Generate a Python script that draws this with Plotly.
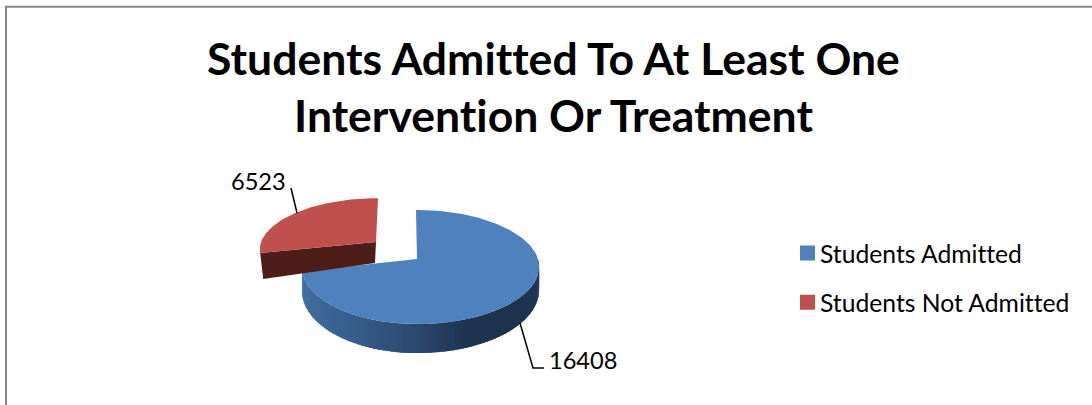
import numpy as np
import plotly.graph_objects as go

# ---- data ----
categories = ["Students Admitted", "Students Not Admitted"]
values = [16408, 6523]
value_labels = ["16408", "6523"]
title_text = "Students Admitted To At Least One<br>Intervention Or Treatment"

# ---- styling / projection of the tilted disc (pixels of the page) ----
W, H = 1092, 405
FONT = "Lato"
BLUE, RED, RED_DARK = "#4f81bd", "#c0504d", "#4d1d1a"
BLUE_APEX, BLUE_R, BLUE_K = (417, 259), 117.5, 56
RED_APEX, RED_R, RED_K = (376, 242), 115, 50
BLUE_SKEW, RED_SKEW = (3.5, -1), (0, 2)
PERSP = 0.14
GRAD_POS = [90, 130, 160, 180, 205, 235, 258]
GRAD_COL = [(31, 58, 92), (29, 50, 78), (31, 52, 80), (43, 73, 110), (54, 92, 136), (62, 106, 155), (68, 114, 164)]


def rim(apex, r, k, skew, deg):
    t = np.radians(deg)
    d = 1 + PERSP * np.cos(t)
    x = apex[0] + r * np.sin(t) / d + skew[0] * np.abs(np.sin(t)) + skew[1] * np.maximum(np.cos(t), 0)
    return x, apex[1] - k * np.cos(t) / d


def depth(deg, d0, d1):
    return d0 - d1 * np.cos(np.radians(deg))


def poly(xs, ys, color):
    return go.Scatter(x=list(xs), y=list(ys), mode="lines", fill="toself", fillcolor=color,
                      line=dict(color=color, width=0), hoverinfo="skip", showlegend=False)


split = 360 * values[0] / sum(values)
fig = go.Figure()

# blue slice: side strips with horizontal shading (each overlaps the next to hide seams)
edges = np.arange(90, split + 0.01, 2.0)
edges = np.append(edges, split) if edges[-1] < split else edges
for a, b in zip(edges[:-1], edges[1:]):
    m = (a + b) / 2
    b2 = min(b + 1.5, split)
    col = [np.interp(m, GRAD_POS, [c[i] for c in GRAD_COL]) for i in range(3)]
    color = "rgb(%d,%d,%d)" % tuple(col)
    xa, ya = rim(BLUE_APEX, BLUE_R, BLUE_K, BLUE_SKEW, a)
    xb, yb = rim(BLUE_APEX, BLUE_R, BLUE_K, BLUE_SKEW, b2)
    fig.add_trace(poly([xa, xb, xb, xa, xa],
                       [ya, yb, yb + depth(b2, 22, 7), ya + depth(a, 22, 7), ya], color))

# blue slice: top face
th = np.linspace(0, split, 200)
bx, by = rim(BLUE_APEX, BLUE_R, BLUE_K, BLUE_SKEW, th)
fig.add_trace(poly([BLUE_APEX[0], *bx, BLUE_APEX[0]], [BLUE_APEX[1], *by, BLUE_APEX[1]], BLUE))

# red slice: cut face, then top face
lx, ly = rim(RED_APEX, RED_R, RED_K, RED_SKEW, split)
fig.add_trace(poly([RED_APEX[0], lx, lx + 3, RED_APEX[0] - 1, RED_APEX[0]],
                   [RED_APEX[1], ly, ly + 26, RED_APEX[1] + 21, RED_APEX[1]], RED_DARK))
th = np.linspace(split, 360, 100)
rx, ry = rim(RED_APEX, RED_R, RED_K, RED_SKEW, th)
fig.add_trace(poly([RED_APEX[0], *rx, RED_APEX[0]], [RED_APEX[1], *ry, RED_APEX[1]], RED))

# leader lines
fig.add_trace(go.Scatter(x=[520, 533, 544], y=[323, 368, 368], mode="lines",
                         line=dict(color="#000000", width=1.5), hoverinfo="skip", showlegend=False))
fig.add_trace(go.Scatter(x=[291, 297], y=[188, 213], mode="lines",
                         line=dict(color="#000000", width=1.5), hoverinfo="skip", showlegend=False))

# legend entries
for name, color in zip(categories, [BLUE, RED]):
    fig.add_trace(go.Scatter(x=[None], y=[None], mode="markers", name=name, legendgroup=name,
                             marker=dict(symbol="square", size=15, color=color)))

fig.add_annotation(x=583, y=360, text=value_labels[0], showarrow=False, xref="x", yref="y",
                   font=dict(family=FONT, size=23.6, color="#000000"))
fig.add_annotation(x=258.5, y=181, text=value_labels[1], showarrow=False, xref="x", yref="y",
                   font=dict(family=FONT, size=23.6, color="#000000"))

# chart frame (only top and left edges lie inside the crop)
fig.add_shape(type="path", path="M 6 405 L 6 6.8 L 1092 6.8", xref="x", yref="y",
              line=dict(color="#868686", width=2))

fig.update_layout(
    width=W, height=H, margin=dict(l=0, r=0, t=0, b=0),
    paper_bgcolor="#ffffff", plot_bgcolor="#ffffff",
    xaxis=dict(range=[0, W], visible=False, fixedrange=True),
    yaxis=dict(range=[H, 0], visible=False, fixedrange=True),
    title=dict(text=title_text, x=553.5 / W, xanchor="center", y=0.816, yanchor="top",
               font=dict(family=FONT, size=44.5, color="#000000", weight="bold")),
    legend=dict(x=780 / W, xanchor="left", y=1 - 278 / H, yanchor="middle",
                font=dict(family=FONT, size=24.7, color="#000000"),
                tracegroupgap=14, itemsizing="trace", bgcolor="rgba(0,0,0,0)"),
    showlegend=True,
)
post = """
document.body.style.margin='0';
document.querySelectorAll('svg text').forEach(function(t){t.style.fontVariantLigatures='none';});
document.querySelectorAll('.legendsymbols').forEach(function(g){g.setAttribute('transform','translate(7.5,0)');});
"""
fig.write_html("out.html", post_script=post, config={"displayModeBar": False})
